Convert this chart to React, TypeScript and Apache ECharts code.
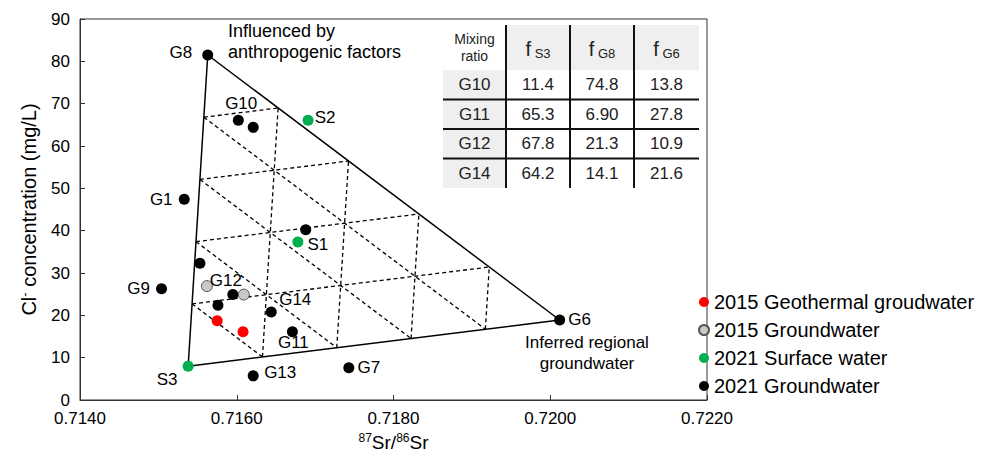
import React, { useEffect, useRef } from 'react';
import * as echarts from 'echarts';

// ---------- data ----------
const xTickMin = 0.714;
const xTickMax = 0.722;
const xTickStep = 0.002;
const yTickMin = 0;
const yTickMax = 90;
const yTickStep = 10;

const seriesNames = ['2015 Geothermal groudwater', '2015 Groundwater', '2021 Surface water', '2021 Groundwater'];

const geo2015Names = ['', ''];
const geo2015X = [0.71575, 0.71608];
const geo2015Y = [18.7, 16.1];

const gw2015Names = ['', ''];
const gw2015X = [0.71562, 0.71609];
const gw2015Y = [26.9, 24.9];

const sw2021Names = ['S3', 'S2', 'S1'];
const sw2021X = [0.71538, 0.71691, 0.71678];
const sw2021Y = [8.0, 66.1, 37.3];

const gw2021Names = ['G8', '', 'G10', 'G1', '', '', 'G9', 'G12', '', 'G14', 'G11', 'G13', 'G7', 'G6'];
const gw2021X = [0.71563, 0.71602, 0.71621, 0.71533, 0.71688, 0.71553, 0.71504, 0.71595, 0.71576, 0.71644, 0.71671, 0.71621, 0.71743, 0.72012];
const gw2021Y = [81.5, 66.1, 64.4, 47.4, 40.2, 32.3, 26.3, 24.9, 22.4, 20.8, 16.1, 5.7, 7.6, 18.9];

const endMembers = ['S3', 'G8', 'G6'];
const gridFractions = [0.2, 0.4, 0.6, 0.8];

const tableHeader = ['Mixing\nratio', 'S3', 'G8', 'G6'];
const tableRows = ['G10', 'G11', 'G12', 'G14'];
const tableFS3 = [11.4, 65.3, 67.8, 64.2];
const tableFG8 = [74.8, 6.9, 21.3, 14.1];
const tableFG6 = [13.8, 27.8, 10.9, 21.6];

const noteTop = 'Influenced by\nanthropogenic factors';
const noteRight = 'Inferred regional\ngroundwater';

// ---------- styles ----------
const FONT = '"Liberation Sans", Arial, sans-serif';
const labelOffset: Record<string, [number, number]> = {
  G8: [-27, -2], G10: [-12, -24], S2: [17, -3], G1: [-23, 0], S1: [20, 2], G9: [-23, 0],
  G12: [-7, -14], G14: [24, -12], G11: [1, 11], S3: [-21, 13], G13: [27, -3], G7: [20, 0], G6: [20, 0],
};

function buildPoints(names: string[], xs: number[], ys: number[]) {
  return xs.map((x, i) => {
    const n = names[i];
    return {
      value: [x, ys[i]],
      name: n,
      label: n
        ? { show: true, formatter: n, position: 'inside', offset: labelOffset[n] || [0, 0], color: '#000', fontSize: 17, fontFamily: FONT }
        : { show: false },
    };
  });
}

export default function App() {
  const ref = useRef<HTMLDivElement>(null);
  useEffect(() => {
    if (!ref.current) return;
    const chart = echarts.init(ref.current, undefined, { renderer: 'svg' });

    const allNames = [...sw2021Names, ...gw2021Names];
    const allX = [...sw2021X, ...gw2021X];
    const allY = [...sw2021Y, ...gw2021Y];
    const vtx = endMembers.map((n) => {
      const i = allNames.indexOf(n);
      return [allX[i], allY[i]];
    });
    const mix = (a: number, b: number, c: number) => [
      a * vtx[0][0] + b * vtx[1][0] + c * vtx[2][0],
      a * vtx[0][1] + b * vtx[1][1] + c * vtx[2][1],
    ];
    const dashed: any[] = [];
    gridFractions.forEach((c) => {
      dashed.push({ coords: [mix(1 - c, 0, c), mix(0, 1 - c, c)] });
      dashed.push({ coords: [mix(1 - c, c, 0), mix(0, c, 1 - c)] });
      dashed.push({ coords: [mix(c, 1 - c, 0), mix(c, 0, 1 - c)] });
    });

    // table graphics
    const cols = [443, 506, 570, 634, 699];
    const tTop = 25;
    const hBottom = 70;
    const rowH = 29.5;
    const tBottom = hBottom + rowH * tableRows.length;
    const gfx: any[] = [];
    gfx.push({ type: 'rect', shape: { x: cols[1], y: tTop, width: cols[4] - cols[1], height: hBottom - tTop }, style: { fill: '#efefef' }, z: 10 });
    gfx.push({ type: 'rect', shape: { x: cols[0], y: hBottom, width: cols[1] - cols[0], height: tBottom - hBottom }, style: { fill: '#efefef' }, z: 10 });
    gfx.push({ type: 'rect', shape: { x: cols[0], y: tTop, width: cols[1] - cols[0], height: hBottom - tTop }, style: { fill: '#ffffff' }, z: 10 });
    gfx.push({ type: 'rect', shape: { x: cols[1], y: hBottom, width: cols[4] - cols[1], height: tBottom - hBottom }, style: { fill: '#ffffff' }, z: 10 });
    for (let i = 1; i <= 3; i++) {
      gfx.push({ type: 'line', shape: { x1: cols[i], y1: tTop, x2: cols[i], y2: tBottom }, style: { stroke: '#111', lineWidth: 2 }, z: 11 });
    }
    for (let r = 1; r < tableRows.length; r++) {
      const y = hBottom + rowH * r;
      gfx.push({ type: 'line', shape: { x1: cols[0], y1: y, x2: cols[4], y2: y }, style: { stroke: '#111', lineWidth: 2 }, z: 11 });
    }
    const cx = (i: number) => (cols[i] + cols[i + 1]) / 2;
    gfx.push({
      type: 'text', x: cx(0), y: (tTop + hBottom) / 2, z: 12,
      style: { text: tableHeader[0], fill: '#222', font: `14px ${FONT}`, lineHeight: 17, align: 'center', verticalAlign: 'middle', textAlign: 'center', textVerticalAlign: 'middle' },
    });
    for (let i = 1; i <= 3; i++) {
      gfx.push({
        type: 'text', x: cx(i), y: (tTop + hBottom) / 2 + 1, z: 12,
        style: {
          text: `{f|f}{s| ${tableHeader[i]}}`,
          rich: {
            f: { fontSize: 20, fontFamily: FONT, fill: '#222', lineHeight: 22 },
            s: { fontSize: 13, fontFamily: FONT, fill: '#222', lineHeight: 13, verticalAlign: 'bottom' },
          },
          align: 'center', verticalAlign: 'middle', textAlign: 'center', textVerticalAlign: 'middle',
        },
      });
    }
    const fmt = (v: number) => v.toPrecision(3);
    tableRows.forEach((name, r) => {
      const yc = hBottom + rowH * r + rowH / 2;
      const vals = [name, fmt(tableFS3[r]), fmt(tableFG8[r]), fmt(tableFG6[r])];
      vals.forEach((t, i) => {
        gfx.push({
          type: 'text', x: cx(i), y: yc, z: 12,
          style: { text: t, fill: '#222', font: `17px ${FONT}`, align: 'center', verticalAlign: 'middle', textAlign: 'center', textVerticalAlign: 'middle' },
        });
      });
    });
    gfx.push({
      type: 'text', x: 228, y: 20, z: 12,
      style: { text: noteTop, fill: '#000', font: `18px ${FONT}`, lineHeight: 21, align: 'left', verticalAlign: 'top', textAlign: 'left', textVerticalAlign: 'top' },
    });
    gfx.push({
      type: 'text', x: 587, y: 332, z: 12,
      style: { text: noteRight, fill: '#000', font: `17px ${FONT}`, lineHeight: 21, align: 'center', verticalAlign: 'top', textAlign: 'center', textVerticalAlign: 'top' },
    });

    const sym = 11;
    const option: any = {
      animation: false,
      textStyle: { fontFamily: FONT },
      grid: { left: 80, right: 280, top: 19, bottom: 61, show: true, borderColor: '#333', borderWidth: 1 },
      xAxis: {
        type: 'value', min: xTickMin, max: xTickMax, interval: xTickStep,
        axisLine: { show: true, lineStyle: { color: '#333', width: 1 } },
        axisTick: { show: true, inside: true, length: 5, lineStyle: { color: '#333' } },
        splitLine: { show: false },
        axisLabel: { formatter: (v: number) => v.toFixed(4), color: '#000', fontSize: 17, margin: 10, fontFamily: FONT },
        name: '{sup|87}{b|Sr/}{sup|86}{b|Sr}',
        nameLocation: 'middle', nameGap: 29,
        nameTextStyle: {
          rich: {
            b: { fontSize: 19, fontFamily: FONT, color: '#000', lineHeight: 22 },
            sup: { fontSize: 12, fontFamily: FONT, color: '#000', lineHeight: 13, verticalAlign: 'top' },
          },
        },
      },
      yAxis: {
        type: 'value', min: yTickMin, max: yTickMax, interval: yTickStep,
        axisLine: { show: true, lineStyle: { color: '#333', width: 1 } },
        axisTick: { show: true, inside: true, length: 5, lineStyle: { color: '#333' } },
        splitLine: { show: false },
        axisLabel: { color: '#000', fontSize: 17, margin: 10, fontFamily: FONT },
        name: '{b|Cl}{sup|-}{b| concentration (mg/L)}',
        nameLocation: 'middle', nameGap: 40,
        nameTextStyle: {
          rich: {
            b: { fontSize: 20, fontFamily: FONT, color: '#000', lineHeight: 22 },
            sup: { fontSize: 13, fontFamily: FONT, color: '#000', lineHeight: 13, verticalAlign: 'top' },
          },
        },
      },
      legend: {
        orient: 'vertical', left: 698, top: 292, padding: 0, itemWidth: 10, itemHeight: 10, itemGap: 8,
        icon: 'circle',
        textStyle: { fontSize: 20, color: '#000', fontFamily: FONT, lineHeight: 18 },
        data: seriesNames,
      },
      graphic: gfx,
      series: [
        {
          type: 'lines', coordinateSystem: 'cartesian2d', data: dashed, silent: true, z: 1,
          lineStyle: { color: '#000', width: 1.3, type: [4, 3], opacity: 1 },
        },
        {
          type: 'line', data: [vtx[0], vtx[1], vtx[2], vtx[0]], symbol: 'none', silent: true, z: 2,
          lineStyle: { color: '#000', width: 1.5 },
        },
        { name: seriesNames[0], type: 'scatter', symbolSize: sym, z: 5, itemStyle: { color: '#ff0000', opacity: 1 }, data: buildPoints(geo2015Names, geo2015X, geo2015Y) },
        { name: seriesNames[1], type: 'scatter', symbolSize: sym, z: 5, itemStyle: { color: '#c8c8c8', borderColor: '#555', borderWidth: 1, opacity: 1 }, data: buildPoints(gw2015Names, gw2015X, gw2015Y) },
        { name: seriesNames[2], type: 'scatter', symbolSize: sym, z: 5, itemStyle: { color: '#00b050', opacity: 1 }, data: buildPoints(sw2021Names, sw2021X, sw2021Y) },
        { name: seriesNames[3], type: 'scatter', symbolSize: sym, z: 5, itemStyle: { color: '#000000', opacity: 1 }, data: buildPoints(gw2021Names, gw2021X, gw2021Y) },
      ],
    };
    chart.setOption(option);
    return () => chart.dispose();
  }, []);
  return <div ref={ref} style={{ position: 'fixed', left: 0, top: 0, width: 987, height: 461, background: '#fff' }} />;
}
